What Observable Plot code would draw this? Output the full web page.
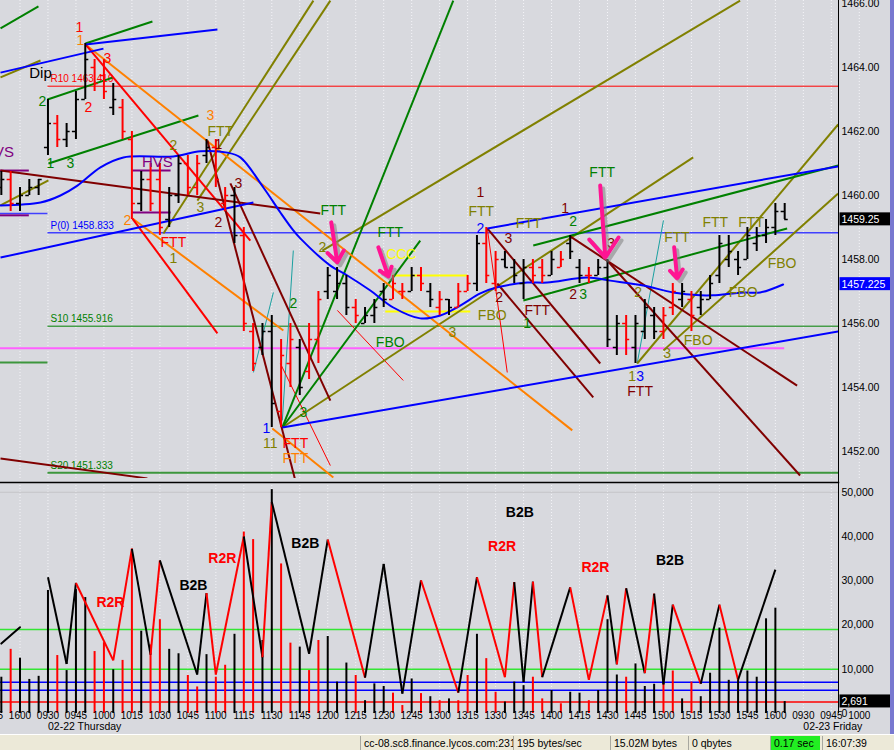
<!DOCTYPE html>
<html><head><meta charset="utf-8">
<script src="https://cdn.jsdelivr.net/npm/d3@7"></script>
<script src="https://cdn.jsdelivr.net/npm/@observablehq/plot@0.6"></script>
<style>
html,body{margin:0;padding:0;}
body{width:894px;height:750px;overflow:hidden;background:#d8d9de;font-family:Arial,"Liberation Sans",sans-serif;}
#root{position:relative;width:894px;height:750px;}
#price{position:absolute;left:0;top:0;}
#vol{position:absolute;left:0;top:481px;}
#axisLine{position:absolute;left:838px;top:0;width:1px;height:713px;background:#000;}
#rborder{position:absolute;left:890px;top:0;width:4px;height:735px;background:#7878d0;}
#status{position:absolute;left:0;top:734px;width:894px;height:16px;background:#ece9d8;border-top:1px solid #fff;font-size:10.5px;color:#000;}
.cell{position:absolute;top:1px;height:14px;line-height:14px;padding-left:3px;border-left:1px solid #a8a8a0;white-space:nowrap;overflow:hidden;box-sizing:border-box;}
</style></head>
<body>
<div id="root">
<div id="price"></div>
<div id="vol"></div>
<div id="axisLine"></div>
<div id="rborder"></div>
<div id="status">
 <div class="cell" style="left:360px;width:153px">cc-08.sc8.finance.lycos.com:231</div>
 <div class="cell" style="left:513px;width:97px">195 bytes/sec</div>
 <div class="cell" style="left:610px;width:78px">15.02M bytes</div>
 <div class="cell" style="left:688px;width:82px">0 qbytes</div>
 <div class="cell" style="left:770px;width:50px;background:#22ee22">0.17 sec</div>
 <div class="cell" style="left:822px;width:48px">16:07:39</div>
</div>
</div>
<script>
// ---------------- DATA ----------------
// bar index: 0 = 09:30 Thursday, 5-minute bars; negatives = Wednesday close
const barIdx = [-5,-4,-3,-2,-1,0,1,2,3,4,5,6,7,8,9,10,11,12,13,14,15,16,17,18,19,20,21,22,23,24,25,26,27,28,29,30,31,32,33,34,35,36,37,38,39,40,41,42,43,44,45,46,47,48,49,50,51,52,53,54,55,56,57,58,59,60,61,62,63,64,65,66,67,68,69,70,71,72,73,74,75,76,77,78,79];
const highs = [1460.75,1460.75,1460.25,1460.5,1460.5,1463.0,1462.5,1462.25,1463.25,1464.75,1464.25,1464.25,1463.5,1463.0,1462.0,1460.75,1461.0,1461.0,1460.25,1461.25,1461.25,1461.25,1461.75,1461.75,1460.25,1460.25,1459.0,1456.0,1456.0,1456.25,1455.5,1456.0,1455.5,1456.0,1457.0,1457.75,1457.75,1457.5,1456.75,1456.5,1456.75,1457.25,1457.5,1457.25,1457.75,1457.75,1457.25,1457.0,1456.75,1457.25,1457.5,1458.75,1459.0,1458.25,1458.25,1458.0,1458.0,1458.0,1458.0,1458.25,1458.25,1458.75,1458.0,1457.75,1458.0,1458.0,1456.25,1456.25,1456.25,1456.75,1456.5,1456.5,1457.25,1457.25,1457.0,1457.0,1457.5,1458.75,1458.75,1458.25,1459.0,1459.0,1459.25,1459.75,1459.75];
const lows = [1460.0,1459.5,1459.5,1460.0,1460.0,1461.25,1461.5,1461.5,1461.75,1463.0,1463.25,1463.0,1462.5,1461.75,1459.25,1459.5,1459.5,1458.75,1459.0,1459.75,1460.0,1460.0,1461.0,1460.25,1459.5,1458.5,1455.75,1454.5,1455.0,1452.75,1452.75,1454.0,1453.75,1454.25,1454.75,1456.75,1456.75,1456.25,1456.0,1456.0,1456.0,1456.5,1456.75,1456.75,1457.0,1457.0,1456.5,1456.25,1456.25,1456.5,1457.0,1457.0,1457.25,1457.0,1457.75,1457.25,1456.75,1457.25,1457.25,1457.5,1457.75,1458.0,1457.25,1457.25,1457.5,1455.25,1455.0,1455.0,1454.75,1455.5,1455.5,1455.5,1456.25,1456.5,1455.75,1456.25,1456.75,1457.25,1457.75,1457.5,1458.0,1458.25,1458.5,1458.75,1459.25];
const opens = [1460.25,1460.5,1459.75,1460.0,1460.25,1461.5,1462.25,1461.75,1462.0,1463.0,1464.0,1463.75,1462.75,1462.75,1461.75,1459.75,1460.5,1460.5,1459.25,1460.0,1461.0,1460.25,1461.25,1461.5,1459.75,1460.0,1458.75,1455.75,1455.25,1455.75,1453.25,1454.75,1455.25,1454.5,1455.5,1457.0,1457.0,1457.25,1456.5,1456.0,1456.25,1457.0,1456.75,1457.0,1457.0,1457.5,1457.0,1456.5,1456.75,1456.5,1457.0,1457.25,1458.5,1457.25,1458.0,1457.75,1457.25,1457.75,1457.75,1457.5,1457.75,1458.5,1457.75,1457.5,1457.5,1457.75,1455.25,1456.0,1455.25,1455.75,1456.25,1455.75,1456.5,1456.75,1456.75,1456.5,1456.75,1457.5,1458.0,1458.0,1458.0,1458.5,1458.75,1459.0,1459.5];
const closes = [1460.5,1459.75,1460.0,1460.25,1460.5,1462.25,1461.75,1462.0,1463.0,1464.25,1463.5,1463.25,1463.0,1462.0,1459.75,1460.5,1459.75,1459.0,1460.0,1461.0,1460.25,1461.0,1461.5,1460.5,1460.0,1458.75,1456.0,1454.75,1455.75,1453.5,1455.0,1455.5,1454.0,1455.5,1456.75,1457.5,1457.25,1456.5,1456.25,1456.25,1456.5,1456.75,1457.25,1457.0,1457.5,1457.25,1456.75,1456.75,1456.5,1457.0,1457.25,1458.5,1457.5,1458.0,1457.75,1457.5,1457.75,1457.5,1457.5,1458.0,1458.0,1458.25,1457.5,1457.5,1457.75,1455.5,1456.0,1455.5,1456.0,1456.5,1455.75,1456.25,1457.0,1457.0,1456.25,1456.75,1457.25,1458.5,1458.25,1457.75,1458.75,1458.75,1459.0,1459.5,1459.25];
const dirs = "uduuuuduuudduddudduudduddudduuddudduuuduuuddudududdudduuudduduuduuuduuudduduuuuuuuuuud".split("");
const volumes = [8200,14500,12500,7700,8400,27800,13100,9700,28000,26200,14000,16000,9900,12000,37200,18600,15500,21200,14500,13500,8600,6000,13300,8200,10900,17900,41000,39300,16500,50600,33800,15900,15000,9700,16500,17400,7100,11400,8600,2900,6700,6100,4600,1800,7800,4500,3800,2900,3300,2900,8600,17900,12400,4800,2600,7100,6300,8200,3300,5200,2200,4800,4600,2900,5200,21200,8700,8200,11200,6100,6600,6700,9600,3300,7100,3800,9100,19300,7500,7500,9600,8200,21400,23800,2691];

// zig-zag swing volume (bar index, volume) and colour of each leg
const zzIdx = [0,2,3,7,9,11,12,16,17,18,21,23,24,28,30,34,36,38,40,44,46,49,50,51,52,53,56,58,60,61,62,64,65,66,67,70,72,74,78];
const zzVol = [30800,11200,29500,12000,37200,13300,34600,8800,27200,8800,40000,12700,47800,13500,39300,8100,33800,4500,30100,4700,30800,8200,29700,7100,29800,8200,28500,7600,26700,11100,28300,9100,27100,6600,24600,6700,24600,7600,32500];
const zzLeg = "bbrrbrbbrrbrbbrbbbrbrrbbrbrrbrbrbbrbrb".split("");
const zzPrev = [[-5,15800],[-3,19500]];
const volLevels = [[19000,"#33e633"],[10000,"#33e633"],[7070,"#0000ff"],[5270,"#0000ff"],[2600,"#ff0000"]];
const volLabels = [["R2R",6.7,25100,"#ff0000"],["B2B",15.6,28900,"#000000"],["R2R",18.7,35000,"#ff0000"],["B2B",27.6,38400,"#000000"],["B2B",50.6,45400,"#000000"],["R2R",48.7,37700,"#ff0000"],["R2R",58.7,33000,"#ff0000"],["B2B",66.7,34600,"#000000"]];

// time axis
const tickIdx = [-6,-3,0,3,6,9,12,15,18,21,24,27,30,33,36,39,42,45,48,51,54,57,60,63,66,69,72,75,78,81,84,87];
const tickLabels = ["1545","1600","0930","0945","1000","1015","1030","1045","1100","1115","1130","1145","1200","1215","1230","1245","1300","1315","1330","1345","1400","1415","1430","1445","1500","1515","1530","1545","1600","0930","0945","1000"];
const dateLabels = [["02-22 Thursday",0],["02-23 Friday",81]];
const priceTicks = [1452,1454,1456,1458,1460,1462,1464,1466];
const volTicks = [0,10000,20000,30000,40000,50000];
const lastClose = 1459.25, lastMA = 1457.225, lastVol = 2691;

// pivot levels [price, from bar, to bar]
const R10 = 1463.416, P0 = 1458.833, S10 = 1455.916, S20 = 1451.333;
const levelLines = [[R10,0,84.8,"#ff0000",1],[P0,0,84.8,"#4040ff",1.5],[S10,0,84.8,"#008000",1],[S20,0,84.8,"#3c963c",2],[1455.23,-5.1,79,"#ff60ff",2],[1459.44,-5.1,0,"#4040ff",1.5],[1454.78,-5.1,0,"#3c963c",2],[1460.78,-5.1,-2,"#800080",2],[1459.38,-5.1,-2,"#800080",2],[1460.78,9,13.2,"#800080",2],[1459.47,9,13.2,"#800080",2]];
const levelTexts = [["R10 1463.416",R10,"#ff0000"],["P(0) 1458.833",P0,"#0000ff"],["S10 1455.916",S10,"#008000"],["S20 1451.333",S20,"#008000"]];

// moving average (bar index, price)
const maPts = [[-5.09,1459.69],[-0.8,1459.78],[1.34,1460.0],[3.16,1460.31],[5.63,1460.88],[8.09,1461.19],[13.45,1461.22],[16.35,1461.38],[19.24,1461.34],[20.63,1461.19],[23.1,1460.25],[24.92,1459.47],[26.31,1458.91],[27.06,1458.66],[30.28,1457.81],[32.1,1457.5],[34.57,1457.03],[37.03,1456.5],[39.92,1456.16],[42.07,1456.25],[44.21,1456.56],[46.36,1456.94],[48.18,1457.13],[51.39,1457.28],[53.54,1457.28],[57.82,1457.44],[60.29,1457.34],[63.83,1457.19],[67.04,1456.97],[69.94,1456.88],[71.33,1456.88],[74.55,1456.97],[76.37,1456.97],[78.83,1457.22]];

// trend lines [bar1, price1, bar2, price2]
const blueLines = [[-5.09,1463.84,5.95,1464.59],[4.02,1464.72,18.17,1465.19],[-5.09,1458.06,22.03,1459.78],[25.13,1452.75,84.73,1455.75],[47.11,1458.97,84.73,1460.91]];
const greenLines = [[-5.09,1465.22,-1.02,1465.91],[4.02,1464.75,11.2,1465.44],[-0.05,1463.0,7.02,1463.69],[0.05,1461.0,16.13,1462.5],[25.13,1452.75,43.46,1466.09],[25.13,1452.75,39.92,1458.59],[50.97,1456.72,79.26,1458.97],[52.04,1458.44,84.73,1460.94]];
const oliveLines = [[12.38,1458.81,28.46,1466.09],[16.02,1459.84,30.28,1466.09],[25.13,1452.75,69.19,1461.19],[29.42,1458.28,74.22,1466.09],[63.18,1454.75,84.73,1462.22],[66.0,1455.16,84.73,1460.06],[-5.09,1459.69,0.05,1460.47],[-5.09,1463.69,-0.8,1464.22]];
const orangeLines = [[4.02,1464.72,56.22,1452.66],[9.06,1459.28,25.24,1455.78],[24.06,1452.72,30.6,1451.19]];
const redLines = [[4.02,1464.72,21.7,1458.59],[9.06,1459.28,18.17,1455.69]];
const maroonLines = [[-5.09,1460.78,29.2,1459.44],[-5.09,1451.78,10.66,1451.16],[17.1,1461.72,26.53,1451.09],[19.56,1460.38,30.28,1453.59],[47.11,1458.97,59.22,1454.75],[48.18,1457.25,58.47,1453.69],[56.0,1458.72,80.33,1454.06],[59.97,1457.97,80.65,1451.25]];
const tealLines = [[22.03,1454.47,24.17,1456.97],[25.13,1452.97,26.31,1458.28],[63.18,1454.75,66.0,1459.22]];
const thinRedLines = [[31.03,1456.41,38.1,1454.22],[47.11,1458.97,49.25,1454.47],[24.92,1454.75,30.28,1451.56]];
const yellowLines = [[36.93,1457.5,44.96,1457.5],[36.17,1456.375,45.28,1456.375]];
const arrows = [[30.38,1459.16,31.02,1457.91],[35.43,1458.38,36.5,1457.47],[59.22,1460.31,59.76,1458.06],[67.15,1458.38,67.47,1457.41]];

// annotations [text, bar, price]
const redLabels = [["1",3.38,1465.25],["3",6.38,1464.28],["2",4.34,1462.75],["FTT",13.45,1458.53],["FTT",26.53,1452.26]];
const orangeLabels = [["1",3.48,1464.84],["3",17.42,1462.5],["2",8.52,1459.22],["FTT",26.53,1451.78]];
const greenLabels = [["2",-0.59,1462.94],["1",0.27,1461.0],["3",2.41,1461.0],["2",26.31,1456.63],["3",27.38,1453.22],["FTT",30.6,1459.53],["FTT",36.7,1458.84],["FBO",36.7,1455.41],["1",51.39,1456.0],["2",56.32,1459.19],["FTT",59.43,1460.72],["3",57.4,1456.91]];
const oliveLabels = [["FTT",18.49,1462.0],["2",13.45,1461.56],["3",16.35,1459.63],["1",13.45,1458.03],["11",23.85,1452.26],["2",29.42,1458.38],["3",43.36,1455.72],["FTT",46.46,1459.5],["FTT",51.55,1459.13],["FBO",47.64,1456.25],["2",63.29,1456.97],["FTT",67.46,1458.69],["3",66.4,1455.06],["FBO",69.72,1455.47],["1",62.65,1454.34],["FTT",71.55,1459.16],["FTT",75.4,1459.16],["FBO",78.72,1457.87],["FBO",74.55,1456.97]];
const maroonLabels = [["1",18.27,1461.6],["3",20.42,1460.38],["2",18.27,1459.16],["1",46.36,1460.09],["3",49.36,1458.66],["2",48.39,1456.81],["FTT",52.47,1456.41],["1",55.47,1459.59],["3",60.4,1458.5],["2",56.32,1456.91],["FTT",63.5,1453.87]];
const blueLabels = [["1",23.42,1452.72],["2",46.36,1458.97],["3",63.5,1454.34]];
const purpleLabels = [["HVS",-5.3,1461.34],["HVS",11.74,1461.03]];
const blackLabels = [["Dip",-0.8,1463.81]];
const yellowLabels = [["CCC",37.89,1458.16]];

// ---------------- CHART ----------------
const FONT = 'Arial, "Liberation Sans", sans-serif';
const bars = barIdx.map((i,k)=>({i, high:highs[k], low:lows[k], open:opens[k], close:closes[k], up:dirs[k]==="u", vol:volumes[k]}));
const xDomain = [-5.09, 84.77];
const W = 894, MR = 56;
const seg = (arr, stroke, w, extra={}) => Plot.link(arr, {x1:d=>d[0], y1:d=>d[1], x2:d=>d[2], y2:d=>d[3], stroke, strokeWidth:w, clip:true, ...extra});
const lab = (arr, fill, size=14, extra={}) => Plot.text(arr, {x:d=>d[1], y:d=>d[2], text:d=>d[0], fill, fontSize:size, fontFamily:FONT, ...extra});

const price = Plot.plot({
  width: W, height: 481, marginLeft: 0, marginRight: MR, marginTop: 0, marginBottom: 3,
  style: {background:"transparent", fontFamily: FONT, fontSize:"11px", overflow:"visible"},
  x: {type:"linear", domain: xDomain, axis: null},
  y: {domain: [1451.156, 1466.094], axis: null},
  marks: [
    Plot.ruleX(tickIdx, {x:d=>d, stroke:"#f4f4f8", strokeDasharray:"1,2"}),
    ...levelLines.map(l => Plot.ruleY([l], {y:d=>d[0], x1:d=>d[1], x2:d=>d[2], stroke:l[3], strokeWidth:l[4], clip:true})),
    Plot.text(levelTexts, {x:0.27, y:d=>d[1], text:d=>d[0], fill:d=>d[2], textAnchor:"start", dy:-7, fontSize:10, fontFamily:FONT}),
    seg(tealLines, "#1aa0a0", 1),
    seg(thinRedLines, "#ff0000", 1),
    seg(yellowLines, "#ffff00", 2),
    seg(oliveLines, "#808000", 2),
    seg(greenLines, "#008000", 2),
    seg(orangeLines, "#ff8000", 2),
    seg(redLines, "#ff0000", 2),
    seg(maroonLines, "#800000", 2),
    seg(blueLines, "#0000ff", 2),
    Plot.line(maPts, {x:d=>d[0], y:d=>d[1], stroke:"#0000ff", strokeWidth:2, curve:"catmull-rom", clip:true}),
    Plot.ruleX(bars, {x:"i", y1:"low", y2:"high", stroke:d=>d.up?"#000":"#ff0000", strokeWidth:2, clip:true}),
    Plot.ruleY(bars, {y:"open", x1:d=>d.i-0.38, x2:"i", stroke:d=>d.up?"#000":"#ff0000", strokeWidth:1.5, clip:true}),
    Plot.ruleY(bars, {y:"close", x1:"i", x2:d=>d.i+0.38, stroke:d=>d.up?"#000":"#ff0000", strokeWidth:1.5, clip:true}),
    lab(redLabels, "#ff0000"), lab(orangeLabels, "#ff8000"), lab(greenLabels, "#008000"),
    lab(oliveLabels, "#808000"), lab(maroonLabels, "#800000"), lab(blueLabels, "#0000ff"),
    lab(purpleLabels, "#800080", 15), lab(blackLabels, "#000", 15), lab(yellowLabels, "#ffff00", 14),
    Plot.arrow(arrows, {x1:d=>d[0], y1:d=>d[1], x2:d=>d[2], y2:d=>d[3], stroke:"#808080", strokeOpacity:0.55, strokeWidth:4, headLength:11, headAngle:75, dx:3, dy:3}),
    Plot.arrow(arrows, {x1:d=>d[0], y1:d=>d[1], x2:d=>d[2], y2:d=>d[3], stroke:"#ff1493", strokeWidth:4, headLength:11, headAngle:75}),
    Plot.axisY(priceTicks, {anchor:"right", tickSize:0, tickPadding:3, tickFormat:d=>d.toFixed(2), fontSize:10.5, fill:"#000"}),
    Plot.text([lastClose], {y:d=>d, text:d=>d.toFixed(2), frameAnchor:"right", textAnchor:"start", dx:3, fill:"#fff", fontSize:10.5, fontFamily:FONT}),
    Plot.text([lastMA], {y:d=>d, text:d=>d.toFixed(3), frameAnchor:"right", textAnchor:"start", dx:3, fill:"#fff", fontSize:10.5, fontFamily:FONT})
  ]
});
document.getElementById("price").appendChild(price);

const zzSegs = zzLeg.map((c,k)=>({i1:zzIdx[k], v1:zzVol[k], i2:zzIdx[k+1], v2:zzVol[k+1], c}));
const vol = Plot.plot({
  width: W, height: 254, marginLeft: 0, marginRight: MR, marginTop: 1, marginBottom: 22,
  style: {background:"transparent", fontFamily: FONT, fontSize:"11px", overflow:"visible"},
  x: {type:"linear", domain: xDomain, axis: null},
  y: {domain: [0, 52203], axis: null},
  marks: [
    Plot.ruleX(tickIdx, {x:d=>d, stroke:"#f4f4f8", strokeDasharray:"1,2", clip:true}),
    Plot.ruleY([50000], {stroke:"#c4c4c8"}),
    Plot.ruleY(volLevels, {y:d=>d[0], stroke:d=>d[1], strokeWidth:1.5}),
    Plot.ruleX(bars, {x:"i", y1:0, y2:"vol", stroke:d=>d.up?"#000":"#ff0000", strokeWidth:2, clip:true}),
    Plot.link(zzSegs, {x1:"i1", y1:"v1", x2:"i2", y2:"v2", stroke:d=>d.c==="r"?"#ff0000":"#000", strokeWidth:2}),
    Plot.line(zzPrev, {x:d=>d[0], y:d=>d[1], stroke:"#000", strokeWidth:2, clip:true}),
    Plot.text(volLabels, {x:d=>d[1], y:d=>d[2], text:d=>d[0], fill:d=>d[3], fontSize:14, fontWeight:"bold", fontFamily:FONT}),
    Plot.frame({anchor:"top", stroke:"#000", strokeWidth:1.5}),
    Plot.axisY(volTicks, {anchor:"right", tickSize:0, tickPadding:3, tickFormat:d3.format(","), fontSize:10.5, fill:"#000"}),
    Plot.text([lastVol], {y:d=>d, text:d=>d3.format(",")(d), frameAnchor:"right", textAnchor:"start", dx:3, fill:"#fff", fontSize:10.5, fontFamily:FONT}),
    Plot.text(tickIdx, {x:d=>d, text:(d,k)=>tickLabels[k], frameAnchor:"bottom", dy:5.5, fontSize:10, fill:"#000", fontFamily:FONT}),
    Plot.text(dateLabels, {x:d=>d[1], text:d=>d[0], frameAnchor:"bottom", dy:16.5, textAnchor:"start", fontSize:10.5, fill:"#000", fontFamily:FONT})
  ]
});
document.getElementById("vol").appendChild(vol);

// coloured value boxes behind the last-value labels
function boxes(svg, map) {
  svg.querySelectorAll("text").forEach(t => {
    const bg = map[t.textContent];
    if (!bg) return;
    const b = t.getBBox();
    const r = document.createElementNS("http://www.w3.org/2000/svg","rect");
    r.setAttribute("x", b.x - 2); r.setAttribute("y", b.y - 0.5);
    r.setAttribute("width", 51); r.setAttribute("height", b.height + 1);
    r.setAttribute("fill", bg);
    if (t.getAttribute("transform")) r.setAttribute("transform", t.getAttribute("transform"));
    t.parentNode.insertBefore(r, t);
  });
}
boxes(price, {"1459.25":"#000", "1457.225":"#0000ff"});
boxes(vol, {"2,691":"#000"});
</script>
</body></html>
